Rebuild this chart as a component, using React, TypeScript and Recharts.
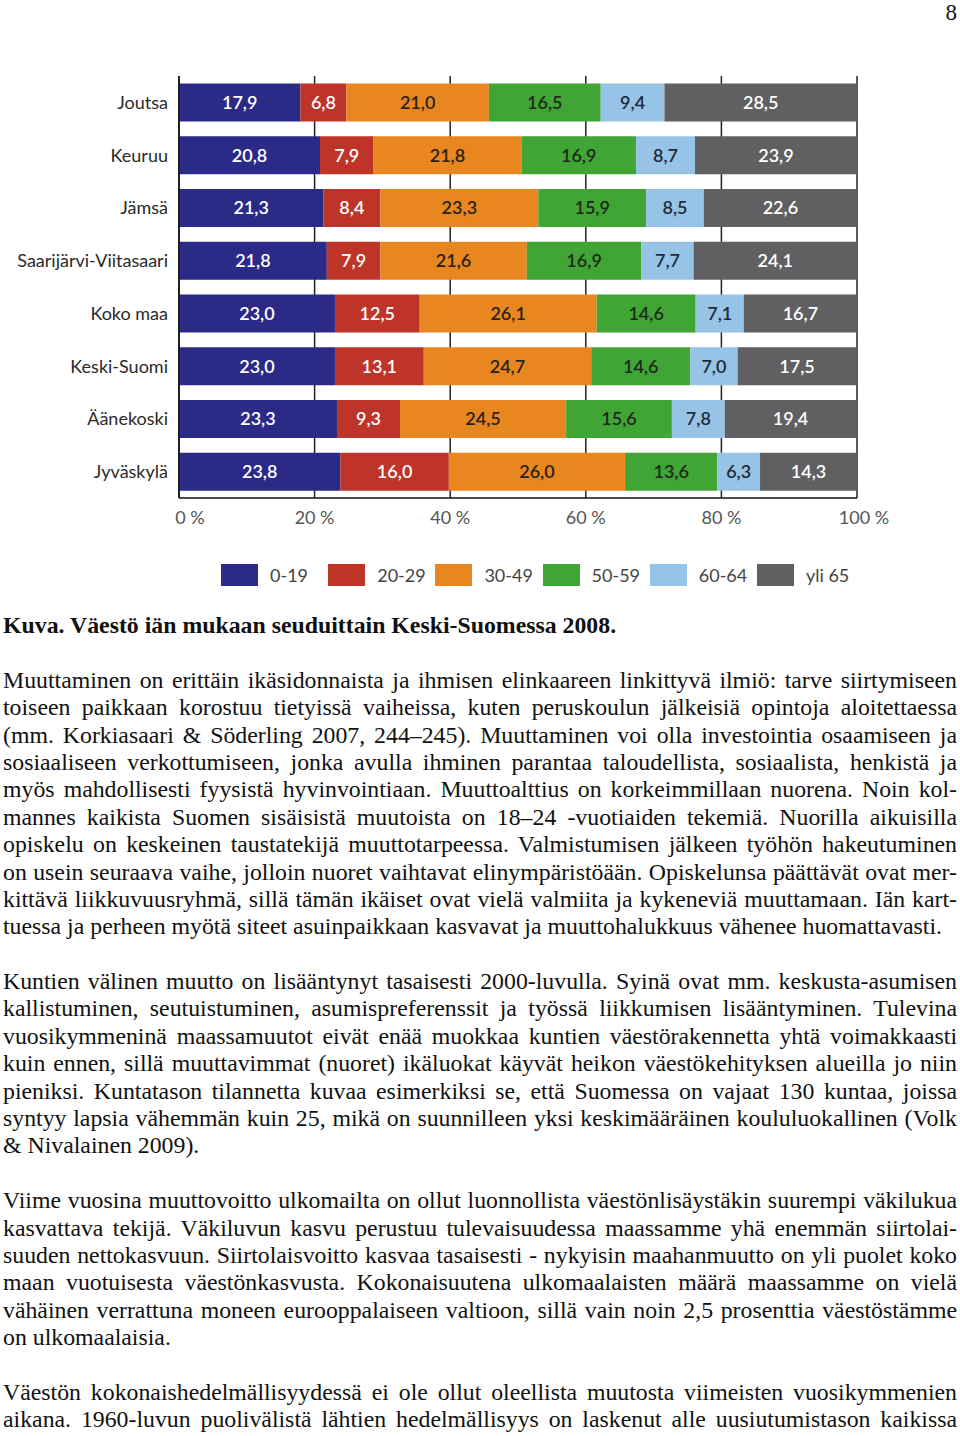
import { Bar, BarChart, CartesianGrid, LabelList, XAxis, YAxis } from "recharts";

const regions = [
  "Joutsa",
  "Keuruu",
  "Jämsä",
  "Saarijärvi-Viitasaari",
  "Koko maa",
  "Keski-Suomi",
  "Äänekoski",
  "Jyväskylä",
];
const age0to19 = [17.9, 20.8, 21.3, 21.8, 23.0, 23.0, 23.3, 23.8];
const age20to29 = [6.8, 7.9, 8.4, 7.9, 12.5, 13.1, 9.3, 16.0];
const age30to49 = [21.0, 21.8, 23.3, 21.6, 26.1, 24.7, 24.5, 26.0];
const age50to59 = [16.5, 16.9, 15.9, 16.9, 14.6, 14.6, 15.6, 13.6];
const age60to64 = [9.4, 8.7, 8.5, 7.7, 7.1, 7.0, 7.8, 6.3];
const age65plus = [28.5, 23.9, 22.6, 24.1, 16.7, 17.5, 19.4, 14.3];
const xTicks = [0, 20, 40, 60, 80, 100];

const series = [
  { key: "a0", name: "0-19", values: age0to19, color: "#2b2a86", text: "#ffffff" },
  { key: "a20", name: "20-29", values: age20to29, color: "#be3428", text: "#ffffff" },
  { key: "a30", name: "30-49", values: age30to49, color: "#e8861f", text: "#2a2118" },
  { key: "a50", name: "50-59", values: age50to59, color: "#40a535", text: "#1d2a1a" },
  { key: "a60", name: "60-64", values: age60to64, color: "#97c3e6", text: "#1f2a3a" },
  { key: "a65", name: "yli 65", values: age65plus, color: "#606062", text: "#ffffff" },
];

const chartData = regions.map((region, i) => {
  const row: Record<string, string | number> = { region };
  series.forEach((s) => {
    row[s.key] = s.values[i];
  });
  return row;
});

const textLines: { t: string; last?: boolean; bold?: boolean }[] = [
  { t: "Kuva. Väestö iän mukaan seuduittain Keski-Suomessa 2008.", last: true, bold: true },
  { t: "", last: true },
  { t: "Muuttaminen on erittäin ikäsidonnaista ja ihmisen elinkaareen linkittyvä ilmiö: tarve siirtymiseen" },
  { t: "toiseen paikkaan korostuu tietyissä vaiheissa, kuten peruskoulun jälkeisiä opintoja aloitettaessa" },
  { t: "(mm. Korkiasaari & Söderling 2007, 244–245). Muuttaminen voi olla investointia osaamiseen ja" },
  { t: "sosiaaliseen verkottumiseen, jonka avulla ihminen parantaa taloudellista, sosiaalista, henkistä ja" },
  { t: "myös mahdollisesti fyysistä hyvinvointiaan. Muuttoalttius on korkeimmillaan nuorena. Noin kol-" },
  { t: "mannes kaikista Suomen sisäisistä muutoista on 18–24 -vuotiaiden tekemiä. Nuorilla aikuisilla" },
  { t: "opiskelu on keskeinen taustatekijä muuttotarpeessa. Valmistumisen jälkeen työhön hakeutuminen" },
  { t: "on usein seuraava vaihe, jolloin nuoret vaihtavat elinympäristöään. Opiskelunsa päättävät ovat mer-" },
  { t: "kittävä liikkuvuusryhmä, sillä tämän ikäiset ovat vielä valmiita ja kykeneviä muuttamaan. Iän kart-" },
  { t: "tuessa ja perheen myötä siteet asuinpaikkaan kasvavat ja muuttohalukkuus vähenee huomattavasti.", last: true },
  { t: "", last: true },
  { t: "Kuntien välinen muutto on lisääntynyt tasaisesti 2000-luvulla. Syinä ovat mm. keskusta-asumisen" },
  { t: "kallistuminen, seutuistuminen, asumispreferenssit ja työssä liikkumisen lisääntyminen. Tulevina" },
  { t: "vuosikymmeninä maassamuutot eivät enää muokkaa kuntien väestörakennetta yhtä voimakkaasti" },
  { t: "kuin ennen, sillä muuttavimmat (nuoret) ikäluokat käyvät heikon väestökehityksen alueilla jo niin" },
  { t: "pieniksi. Kuntatason tilannetta kuvaa esimerkiksi se, että Suomessa on vajaat 130 kuntaa, joissa" },
  { t: "syntyy lapsia vähemmän kuin 25, mikä on suunnilleen yksi keskimääräinen koululuokallinen (Volk" },
  { t: "& Nivalainen 2009).", last: true },
  { t: "", last: true },
  { t: "Viime vuosina muuttovoitto ulkomailta on ollut luonnollista väestönlisäystäkin suurempi väkilukua" },
  { t: "kasvattava tekijä. Väkiluvun kasvu perustuu tulevaisuudessa maassamme yhä enemmän siirtolai-" },
  { t: "suuden nettokasvuun. Siirtolaisvoitto kasvaa tasaisesti - nykyisin maahanmuutto on yli puolet koko" },
  { t: "maan vuotuisesta väestönkasvusta. Kokonaisuutena ulkomaalaisten määrä maassamme on vielä" },
  { t: "vähäinen verrattuna moneen eurooppalaiseen valtioon, sillä vain noin 2,5 prosenttia väestöstämme" },
  { t: "on ulkomaalaisia.", last: true },
  { t: "", last: true },
  { t: "Väestön kokonaishedelmällisyydessä ei ole ollut oleellista muutosta viimeisten vuosikymmenien" },
  { t: "aikana. 1960-luvun puolivälistä lähtien hedelmällisyys on laskenut alle uusiutumistason kaikissa" },
];

const fmt = (v: unknown) => Number(v).toFixed(1).replace(".", ",");

function XTick(props: any) {
  const { x, y, payload } = props;
  const shift = payload.value === 0 ? 11 : payload.value === 100 ? 7 : 0;
  return (
    <text x={x + shift} y={y + 18} textAnchor="middle" fill="#555" fontSize={18}>
      {`${payload.value} %`}
    </text>
  );
}

export default function App() {
  return (
    <div style={{ position: "relative", width: 960, height: 1436, background: "#fff", overflow: "hidden" }}>
      <style>{"body{margin:0}"}</style>
      <div
        style={{
          position: "absolute",
          right: 3,
          top: 0,
          fontFamily: "'Liberation Serif', serif",
          fontSize: 23,
          color: "#111",
        }}
      >
        8
      </div>
      <div style={{ position: "absolute", left: 0, top: 0, fontFamily: "Lato, sans-serif" }}>
        <BarChart
          width={960}
          height={610}
          data={chartData}
          layout="vertical"
          barCategoryGap="14%"
          margin={{ top: 76, right: 103, left: 0, bottom: 0 }}
        >
          <CartesianGrid horizontal={false} stroke="#222" strokeWidth={1.5} />
          <XAxis
            type="number"
            domain={[0, 100]}
            allowDataOverflow
            ticks={xTicks}
            tick={<XTick />}
            tickLine={false}
            axisLine={{ stroke: "#111", strokeWidth: 1.5 }}
            height={112}
          />
          <YAxis
            type="category"
            dataKey="region"
            width={179}
            tickLine={false}
            tickMargin={5}
            axisLine={{ stroke: "#111", strokeWidth: 1.5 }}
            tick={{ fill: "#2a2a2a", fontSize: 18 }}
          />
          {series.map((s) => (
            <Bar key={s.key} dataKey={s.key} name={s.name} stackId="a" fill={s.color} isAnimationActive={false}>
              <LabelList
                dataKey={s.key}
                position="center"
                formatter={fmt}
                fill={s.text}
                fontSize={18}
                fontWeight={600}
              />
            </Bar>
          ))}
        </BarChart>
      </div>
      <div
        style={{
          position: "absolute",
          left: 221,
          top: 564,
          display: "flex",
          fontFamily: "Lato, sans-serif",
          fontSize: 18,
          color: "#444",
        }}
      >
        {series.map((s) => (
          <div key={s.key} style={{ display: "flex", alignItems: "center", width: 107.2 }}>
            <div style={{ width: 37, height: 22, background: s.color, marginRight: 12 }} />
            <span>{s.name}</span>
          </div>
        ))}
      </div>
      <div
        style={{
          position: "absolute",
          left: 3,
          top: 612,
          width: 954,
          fontFamily: "'Liberation Serif', 'Times New Roman', serif",
          fontSize: 23.8,
          lineHeight: "27.4px",
          color: "#111",
        }}
      >
        {textLines.map((l, i) => (
          <div
            key={i}
            style={{
              height: 27.4,
              textAlign: l.last ? "left" : "justify",
              textAlignLast: l.last ? "left" : "justify",
              fontWeight: l.bold ? "bold" : "normal",
              whiteSpace: "nowrap",
            }}
          >
            {l.t}
          </div>
        ))}
      </div>
    </div>
  );
}
